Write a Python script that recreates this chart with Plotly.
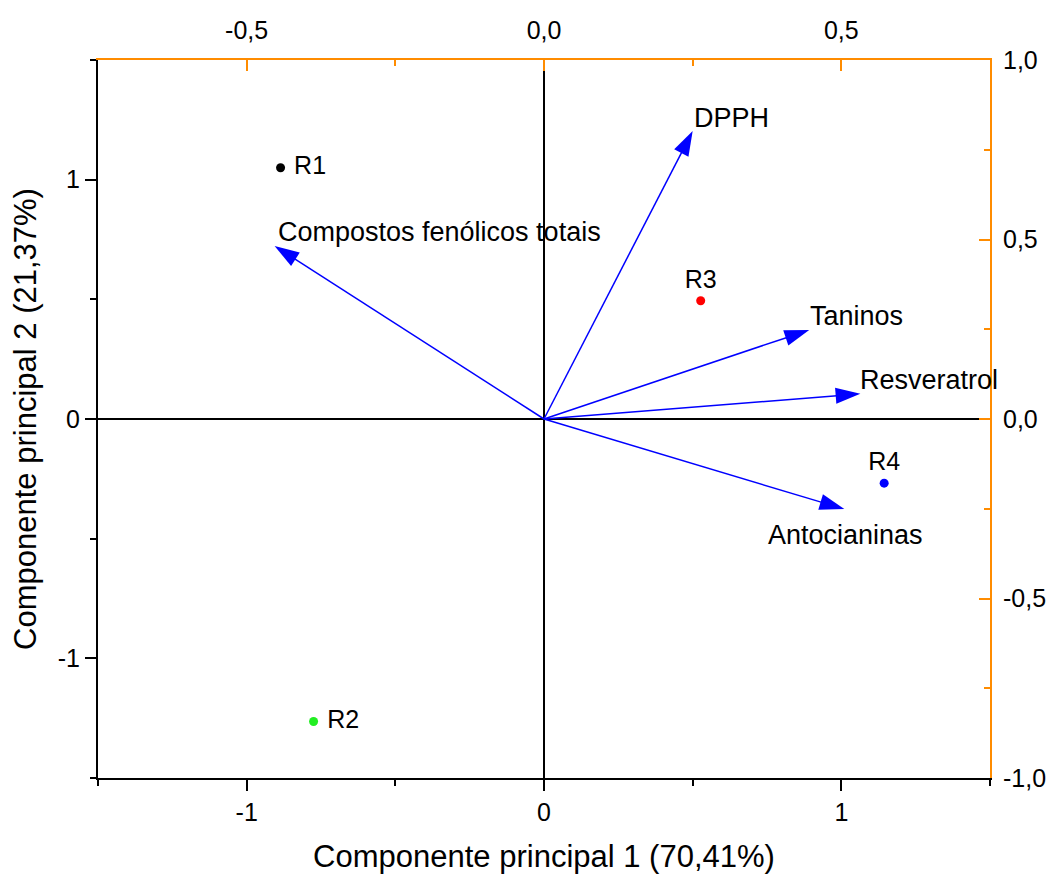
import plotly.graph_objects as go

# ---- data ----
sample_names = ["R1", "R2", "R3", "R4"]
pc1_scores = [-0.886, -0.775, 0.527, 1.144]
pc2_scores = [1.050, -1.264, 0.494, -0.268]

variables = ["DPPH", "Compostos fenólicos totais", "Taninos", "Resveratrol", "Antocianinas"]
pc1_loadings = [0.250, -0.453, 0.446, 0.532, 0.505]
pc2_loadings = [0.802, 0.482, 0.248, 0.070, -0.251]

score_ticks = [-1, 0, 1]
score_ticktext = ["-1", "0", "1"]
loading_x_ticks = [-0.5, 0.0, 0.5]
loading_x_ticktext = ["-0,5", "0,0", "0,5"]
loading_y_ticks = [-1.0, -0.5, 0.0, 0.5, 1.0]
loading_y_ticktext = ["-1,0", "-0,5", "0,0", "0,5", "1,0"]

x_title = "Componente principal 1 (70,41%)"
y_title = "Componente principal 2 (21,37%)"

# ---- styles ----
FONT = "Arial, Liberation Sans, sans-serif"
ORANGE = "#FF8C00"
ARROW_BLUE = "#0000FF"
sample_colors = ["#000000", "#22EE22", "#FF0000", "#0000FF"]
sample_textpos = ["middle right", "middle right", "top center", "top center"]
label_offsets = {
    "DPPH": (-1, 13, "left"),
    "Compostos fenólicos totais": (1, 14, "left"),
    "Taninos": (-1, 14, "left"),
    "Resveratrol": (-2, 14, "left"),
    "Antocianinas": (-78, -26, "left"),
}

fig = go.Figure()

# loading arrows (top/right axes)
for name, lx, ly in zip(variables, pc1_loadings, pc2_loadings):
    fig.add_trace(go.Scatter(
        x=[0, lx], y=[0, ly], xaxis="x2", yaxis="y2",
        mode="lines+markers",
        line=dict(color=ARROW_BLUE, width=1.5),
        marker=dict(symbol="arrow", size=[0, 26], angleref="previous",
                    color=ARROW_BLUE, opacity=1, line=dict(width=0)),
        showlegend=False, hoverinfo="skip",
    ))
    dx, dy, xa = label_offsets[name]
    fig.add_annotation(
        x=lx, y=ly, xref="x2", yref="y2", text=name, showarrow=False,
        xanchor=xa, yanchor="middle", xshift=dx, yshift=dy,
        font=dict(family=FONT, size=27, color="black"),
    )

# scores
fig.add_trace(go.Scatter(
    x=pc1_scores, y=pc2_scores, mode="markers+text",
    text=[" " + s if p == "middle right" else s for s, p in zip(sample_names, sample_textpos)],
    textposition=sample_textpos,
    textfont=dict(family=FONT, size=25, color="black"),
    marker=dict(size=9, color=sample_colors),
    showlegend=False, hoverinfo="skip",
))

tickfont = dict(family=FONT, size=25, color="black")

fig.update_layout(
    width=1052, height=866, autosize=False,
    margin=dict(l=90, r=70, t=52, b=96, autoexpand=False),
    paper_bgcolor="white", plot_bgcolor="white",
    font=dict(family=FONT, color="black"),
    xaxis=dict(
        range=[-1.5, 1.5], tickmode="array", tickvals=score_ticks, ticktext=score_ticktext,
        showline=True, linecolor="black", linewidth=2, automargin=False,
        ticks="outside", ticklen=11, tickwidth=2, tickcolor="black",
        minor=dict(tickmode="linear", tick0=0, dtick=0.5, ticks="outside", ticklen=6,
                   tickwidth=2, tickcolor="black", showgrid=False),
        showgrid=False, zeroline=True, zerolinecolor="black", zerolinewidth=2,
        tickfont=tickfont,
        title=dict(text=x_title, font=dict(family=FONT, size=31, color="black"), standoff=22),
    ),
    yaxis=dict(
        range=[-1.5, 1.5], tickmode="array", tickvals=score_ticks, ticktext=score_ticktext,
        showline=True, linecolor="black", linewidth=2, automargin=False,
        ticks="outside", ticklen=11, tickwidth=2, tickcolor="black",
        minor=dict(tickmode="linear", tick0=0, dtick=0.5, ticks="outside", ticklen=6,
                   tickwidth=2, tickcolor="black", showgrid=False),
        showgrid=False, zeroline=True, zerolinecolor="black", zerolinewidth=2,
        tickfont=tickfont,
        title=dict(text=y_title, font=dict(family=FONT, size=31, color="black"), standoff=16),
    ),
    xaxis2=dict(
        overlaying="x", side="top", anchor="y", automargin=False,
        range=[-0.75, 0.75], tickmode="array", tickvals=loading_x_ticks, ticktext=loading_x_ticktext,
        showline=True, linecolor=ORANGE, linewidth=2, ticklabelstandoff=9,
        ticks="inside", ticklen=11, tickwidth=2, tickcolor=ORANGE,
        minor=dict(tickmode="linear", tick0=0, dtick=0.25, ticks="inside", ticklen=6,
                   tickwidth=2, tickcolor=ORANGE, showgrid=False),
        showgrid=False, zeroline=False, tickfont=tickfont,
    ),
    yaxis2=dict(
        overlaying="y", side="right", anchor="x", automargin=False,
        range=[-1.0, 1.0], tickmode="array", tickvals=loading_y_ticks, ticktext=loading_y_ticktext,
        showline=True, linecolor=ORANGE, linewidth=2, ticklabelstandoff=6,
        ticks="inside", ticklen=11, tickwidth=2, tickcolor=ORANGE,
        minor=dict(tickmode="linear", tick0=0, dtick=0.25, ticks="inside", ticklen=6,
                   tickwidth=2, tickcolor=ORANGE, showgrid=False),
        showgrid=False, zeroline=False, tickfont=tickfont,
    ),
)

fig.write_html("out.html")
